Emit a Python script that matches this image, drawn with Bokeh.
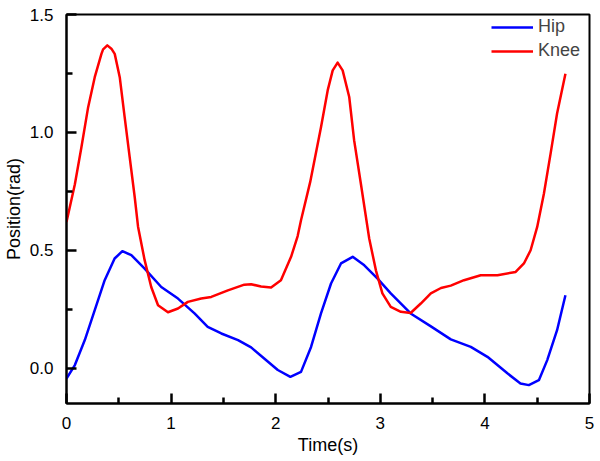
from bokeh.plotting import figure
from bokeh.models import FixedTicker, NumeralTickFormatter, Range1d, Legend, LegendItem
from bokeh.embed import file_html
from bokeh.resources import INLINE

# ---- data ----
knee_t = [0.00, 0.08, 0.143, 0.207, 0.27, 0.334, 0.35, 0.39, 0.429, 0.461, 0.509,
          0.556, 0.604, 0.652, 0.684, 0.747, 0.81, 0.875, 0.97, 1.066, 1.16, 1.288,
          1.384, 1.543, 1.70, 1.765, 1.86, 1.956, 2.05, 2.147, 2.21, 2.242, 2.33, 2.433,
          2.497, 2.545, 2.592, 2.64, 2.703, 2.75, 2.815, 2.894,
          2.958, 3.02, 3.10, 3.197, 3.29, 3.387, 3.483, 3.58, 3.674, 3.80, 3.96, 4.12,
          4.294, 4.373, 4.437, 4.50, 4.564, 4.628, 4.69, 4.77]
knee_pos = [0.62, 0.78, 0.938, 1.107, 1.234, 1.333, 1.352, 1.369, 1.355, 1.333, 1.234,
            1.065, 0.895, 0.726, 0.60, 0.458, 0.344, 0.267, 0.237, 0.253, 0.281, 0.295,
            0.302, 0.33, 0.354, 0.356, 0.346, 0.342, 0.373, 0.472, 0.56, 0.627, 0.79, 1.022,
            1.178, 1.263, 1.296, 1.263, 1.15, 0.966, 0.78, 0.55,
            0.415, 0.317, 0.26, 0.239, 0.234, 0.274, 0.317, 0.34, 0.35, 0.373, 0.394, 0.394,
            0.408, 0.444, 0.5, 0.599, 0.74, 0.91, 1.08, 1.249]

hip_t = [0.00, 0.08, 0.175, 0.27, 0.365, 0.46, 0.534, 0.62, 0.747, 0.906, 1.066, 1.224,
         1.35, 1.48, 1.64, 1.765, 1.89, 2.02, 2.14, 2.242, 2.338, 2.433, 2.529, 2.624,
         2.736, 2.847, 2.974, 3.10, 3.29, 3.48, 3.674, 3.865, 4.024, 4.215, 4.34, 4.42,
         4.516, 4.596, 4.69, 4.77]
hip_pos = [-0.044, 0.013, 0.119, 0.246, 0.373, 0.465, 0.496, 0.479, 0.422, 0.344, 0.295, 0.232,
           0.175, 0.147, 0.119, 0.088, 0.041, -0.008, -0.037, -0.016, 0.09, 0.232, 0.359, 0.444,
           0.472, 0.436, 0.38, 0.317, 0.232, 0.178, 0.122, 0.09, 0.048, -0.022, -0.065, -0.072,
           -0.051, 0.034, 0.161, 0.309]

x_ticks = [0, 1, 2, 3, 4, 5]
x_minor = [0.5, 1.5, 2.5, 3.5, 4.5]
y_ticks = [0.0, 0.5, 1.0, 1.5]
y_minor = [0.25, 0.75, 1.25]
x_lo, x_hi = 0, 5
y_lo, y_hi = -0.15, 1.5

FONT = "Liberation Sans"

p = figure(width=600, height=461, output_backend="svg", toolbar_location=None,
           x_range=Range1d(x_lo, x_hi), y_range=Range1d(y_lo, y_hi),
           min_border_left=65, min_border_right=11, min_border_top=14, min_border_bottom=58)
p.xgrid.visible = False
p.ygrid.visible = False
p.outline_line_color = "black"
p.outline_line_width = 2

r_hip = p.line(hip_t, hip_pos, line_color="#0000FF", line_width=2.5, line_join="round")
r_knee = p.line(knee_t, knee_pos, line_color="#FF0000", line_width=2.5, line_join="round")

for ax in (p.xaxis[0], p.yaxis[0]):
    ax.axis_line_width = 2
    ax.axis_line_color = "black"
    ax.major_tick_in = 10
    ax.major_tick_out = 0
    ax.minor_tick_in = 6
    ax.minor_tick_out = 0
    ax.major_tick_line_width = 2.5
    ax.minor_tick_line_width = 2.5
    ax.major_tick_line_color = "black"
    ax.minor_tick_line_color = "black"
    ax.major_label_text_font = FONT
    ax.major_label_text_font_size = "17px"
    ax.major_label_text_color = "black"
    ax.axis_label_text_font = FONT
    ax.axis_label_text_font_size = "18px"
    ax.axis_label_text_font_style = "normal"
    ax.axis_label_text_color = "black"

p.xaxis.ticker = FixedTicker(ticks=x_ticks, minor_ticks=x_minor)
p.yaxis.ticker = FixedTicker(ticks=y_ticks, minor_ticks=y_minor)
p.xaxis.formatter = NumeralTickFormatter(format="0")
p.yaxis.formatter = NumeralTickFormatter(format="0.0")
p.xaxis.axis_label = "Time(s)"
p.yaxis.axis_label = "Position(rad)"
p.xaxis.major_label_standoff = 13
p.yaxis.major_label_standoff = 13
p.xaxis.axis_label_standoff = 3
p.yaxis.axis_label_standoff = 3

legend = Legend(items=[LegendItem(label="Hip", renderers=[r_hip]),
                       LegendItem(label="Knee", renderers=[r_knee])],
                location="top_right")
legend.border_line_color = None
legend.background_fill_alpha = 0
legend.label_text_font = FONT
legend.label_text_font_size = "18px"
legend.label_width = 49
legend.glyph_width = 42
legend.glyph_height = 20
legend.label_standoff = 5
legend.spacing = 3
legend.margin = 2
legend.padding = 4
p.add_layout(legend, "center")

open("out.html", "w").write(file_html(p, INLINE))
